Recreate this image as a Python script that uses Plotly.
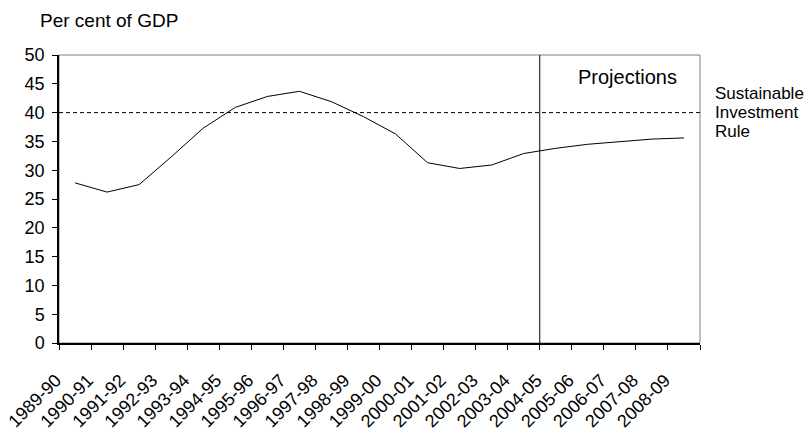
import plotly.graph_objects as go

# Financial years shown on the category axis
years = [
    "1989-90", "1990-91", "1991-92", "1992-93", "1993-94", "1994-95",
    "1995-96", "1996-97", "1997-98", "1998-99", "1999-00", "2000-01",
    "2001-02", "2002-03", "2003-04", "2004-05", "2005-06", "2006-07",
    "2007-08", "2008-09",
]
# Public sector net debt, per cent of GDP
net_debt = [
    27.8, 26.2, 27.5, 32.3, 37.3, 40.9, 42.8, 43.7, 41.9, 39.3,
    36.3, 31.3, 30.3, 30.9, 32.9, 33.8, 34.5, 35.0, 35.4, 35.6,
]
y_ticks = [0, 5, 10, 15, 20, 25, 30, 35, 40, 45, 50]
rule_level = 40
projection_start = "2004-05"

FONT = "Liberation Sans, Arial, Helvetica, sans-serif"

fig = go.Figure()
fig.add_trace(go.Scatter(
    x=years, y=net_debt, mode="lines",
    line=dict(color="black", width=1),
    showlegend=False, hoverinfo="x+y",
))

# boundary between outturn and projections
proj_x = years.index(projection_start) - 0.5

shapes = [
    # light frame on top/right
    dict(type="rect", xref="paper", yref="paper", x0=0, x1=1, y0=0, y1=1,
         line=dict(color="#808080", width=1), layer="below"),
    # sustainable investment rule
    dict(type="line", xref="paper", yref="y", x0=0, x1=1,
         y0=rule_level, y1=rule_level,
         line=dict(color="black", width=1, dash="4px,3px")),
    # projections divider
    dict(type="line", xref="x", yref="paper", x0=proj_x, x1=proj_x,
         y0=0, y1=1, line=dict(color="black", width=1)),
]

annotations = [
    dict(text="Projections", xref="paper", yref="paper", x=0.887, y=0.922,
         xanchor="center", yanchor="middle", showarrow=False,
         font=dict(family=FONT, size=20, color="black")),
]
for i, line_text in enumerate(["Sustainable", "Investment", "Rule"]):
    annotations.append(dict(
        text=line_text, xref="paper", yref="y", x=1.02, y=rule_level,
        xanchor="left", yanchor="middle", yshift=19 * (1 - i),
        showarrow=False, font=dict(family=FONT, size=17, color="black"),
    ))

fig.update_layout(
    width=812, height=433,
    margin=dict(l=59, r=112, t=55, b=90, pad=0),
    paper_bgcolor="white", plot_bgcolor="white",
    font=dict(family=FONT, size=18, color="black"),
    title=dict(text="Per cent of GDP", xref="container", yref="container",
               x=40 / 812, y=1 - 20 / 433, xanchor="left", yanchor="middle",
               font=dict(family=FONT, size=19, color="black")),
    shapes=shapes,
    annotations=annotations,
    xaxis=dict(
        type="category", categoryorder="array", categoryarray=years,
        range=[-0.5, len(years) - 0.5], automargin=False,
        showline=True, linecolor="black", linewidth=1.5,
        ticks="outside", tickson="boundaries", ticklen=5,
        tickcolor="black", tickwidth=1,
        tickangle=-45, tickfont=dict(family=FONT, size=18),
        ticklabelshift=-19, ticklabelstandoff=18,
        showgrid=False, zeroline=False,
    ),
    yaxis=dict(
        range=[0, 50], tickvals=y_ticks, automargin=False,
        showline=True, linecolor="black", linewidth=1.5,
        ticks="outside", ticklen=5, tickcolor="black", tickwidth=1,
        tickfont=dict(family=FONT, size=18), ticklabelstandoff=4,
        showgrid=False, zeroline=False,
    ),
)

fig.write_html("out.html")
